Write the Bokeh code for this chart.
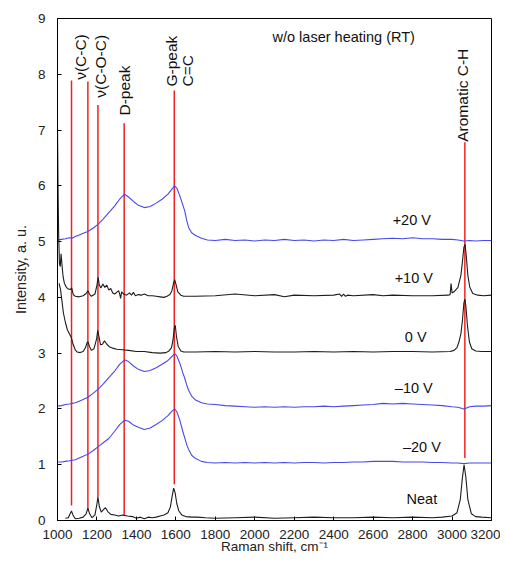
from math import pi
from bokeh.plotting import figure
from bokeh.models import FixedTicker
from bokeh.core.properties import value
from bokeh.embed import file_html
from bokeh.resources import INLINE

# ---------------- data ----------------
x_grid = [1000, 1020, 1040, 1060, 1075, 1090, 1110, 1130, 1154, 1180, 1205, 1230, 1260, 1290, 1315,
          1340, 1360, 1385, 1410, 1440, 1470, 1500, 1530, 1560, 1580, 1594, 1605, 1620, 1635, 1645,
          1655, 1665, 1680, 1700, 1730, 1760, 1800, 1850, 1900, 1950, 2000, 2050, 2100, 2150, 2200,
          2250, 2300, 2350, 2400, 2450, 2500, 2550, 2600, 2650, 2700, 2750, 2800, 2850, 2900, 2950,
          3000, 3030, 3060, 3090, 3120, 3160, 3200]

y_p20 = [5.03, 5.04, 5.05, 5.07, 5.06, 5.09, 5.12, 5.15, 5.18, 5.24, 5.31, 5.40, 5.52, 5.64, 5.76,
         5.85, 5.80, 5.72, 5.65, 5.61, 5.63, 5.69, 5.76, 5.85, 5.94, 6.00, 5.96, 5.82, 5.66, 5.55,
         5.38, 5.25, 5.16, 5.11, 5.06, 5.03, 5.02, 5.04, 5.02, 5.03, 5.01, 5.03, 5.02, 5.04, 5.02,
         5.03, 5.01, 5.03, 5.02, 5.04, 5.02, 5.03, 5.04, 5.05, 5.06, 5.05, 5.07, 5.05, 5.05, 5.04,
         5.04, 5.03, 5.01, 5.02, 5.01, 5.02, 5.02]

y_m10 = [2.05, 2.06, 2.08, 2.09, 2.10, 2.11, 2.14, 2.17, 2.21, 2.28, 2.35, 2.44, 2.56, 2.68, 2.80,
         2.88, 2.85, 2.77, 2.71, 2.67, 2.69, 2.74, 2.80, 2.87, 2.94, 2.99, 2.95, 2.82, 2.65, 2.55,
         2.43, 2.33, 2.23, 2.16, 2.11, 2.09, 2.08, 2.06, 2.05, 2.04, 2.03, 2.04, 2.03, 2.04, 2.03,
         2.04, 2.04, 2.05, 2.04, 2.05, 2.06, 2.07, 2.08, 2.10, 2.09, 2.10, 2.09, 2.08, 2.07, 2.06,
         2.04, 2.03, 2.00, 2.04, 2.05, 2.05, 2.06]

y_m20 = [1.05, 1.05, 1.06, 1.07, 1.08, 1.09, 1.12, 1.15, 1.19, 1.25, 1.32, 1.39, 1.47, 1.60, 1.72,
         1.80, 1.78, 1.71, 1.67, 1.63, 1.66, 1.72, 1.79, 1.88, 1.96, 2.00, 1.95, 1.80, 1.60, 1.48,
         1.36, 1.27, 1.17, 1.11, 1.06, 1.04, 1.03, 1.04, 1.03, 1.04, 1.03, 1.04, 1.03, 1.04, 1.03,
         1.04, 1.04, 1.03, 1.04, 1.04, 1.05, 1.05, 1.06, 1.06, 1.06, 1.05, 1.05, 1.05, 1.04, 1.04,
         1.03, 1.03, 1.02, 1.03, 1.03, 1.03, 1.03]

x_p10 = [1000, 1003, 1006, 1010, 1014, 1018, 1022, 1028, 1035, 1045, 1055, 1065, 1072, 1080, 1090,
         1110, 1130, 1145, 1154, 1162, 1172, 1190, 1200, 1206, 1212, 1220, 1230, 1240, 1250, 1260,
         1270, 1280, 1290, 1300, 1310, 1316, 1320, 1325, 1335, 1350, 1365, 1375, 1385, 1395, 1410,
         1425, 1440, 1460, 1480, 1500, 1520, 1540, 1555, 1570, 1580, 1588, 1594, 1600, 1610, 1625,
         1640, 1700, 1800, 1900, 2000, 2100, 2150, 2200, 2300, 2400, 2430, 2440, 2450, 2460, 2470,
         2500, 2600, 2650, 2700, 2800, 2900, 2980, 2990, 2995, 3000, 3010, 3030, 3045, 3053, 3060,
         3066, 3072, 3080, 3090, 3105, 3130, 3160, 3200]
y_p10 = [7.05, 5.90, 5.10, 4.60, 4.55, 4.78, 4.62, 4.38, 4.25, 4.18, 4.15, 4.14, 4.17, 4.05, 4.02,
         4.01, 4.03, 4.07, 4.12, 4.06, 4.02, 4.06, 4.22, 4.36, 4.22, 4.17, 4.24, 4.18, 4.22, 4.13,
         4.16, 4.08, 4.06, 4.09, 4.12, 4.05, 3.98, 4.10, 4.06, 4.04, 4.08, 4.04, 4.09, 4.03, 4.05,
         4.04, 4.06, 4.03, 4.03, 4.02, 4.01, 4.00, 4.02, 4.05, 4.12, 4.25, 4.32, 4.24, 4.10, 4.04,
         4.02, 4.02, 4.03, 4.06, 4.03, 4.05, 4.01, 4.04, 4.03, 4.04, 4.06, 4.02, 4.06, 4.02, 4.04,
         4.03, 4.05, 4.03, 4.04, 4.03, 4.03, 4.04, 4.05, 4.25, 4.08, 4.10, 4.18, 4.40, 4.65, 4.90,
         4.95, 4.75, 4.40, 4.18, 4.07, 4.04, 4.03, 4.04]

x_0 = [1008, 1015, 1022, 1030, 1040, 1050, 1060, 1070, 1080, 1090, 1100, 1115, 1130, 1142, 1150,
       1155, 1162, 1172, 1185, 1198, 1204, 1210, 1218, 1228, 1238, 1250, 1265, 1280, 1300, 1330,
       1360, 1400, 1440, 1480, 1520, 1550, 1565, 1578, 1586, 1592, 1597, 1603, 1612, 1625, 1640,
       1700, 1800, 1900, 2000, 2100, 2200, 2300, 2400, 2500, 2600, 2700, 2800, 2900, 2990, 3010,
       3025, 3035, 3045, 3053, 3060, 3065, 3070, 3078, 3088, 3100, 3120, 3150, 3200]
y_0 = [4.25, 4.15, 3.95, 3.72, 3.55, 3.42, 3.35, 3.28, 3.15, 3.06, 3.02, 3.01, 3.03, 3.10, 3.19,
       3.20, 3.12, 3.05, 3.08, 3.25, 3.41, 3.30, 3.15, 3.16, 3.22, 3.16, 3.11, 3.09, 3.07, 3.06,
       3.05, 3.03, 3.03, 3.01, 3.00, 3.01, 3.04, 3.10, 3.25, 3.45, 3.50, 3.30, 3.12, 3.04, 3.02,
       3.02, 3.03, 3.02, 3.03, 3.02, 3.02, 3.03, 3.02, 3.03, 3.02, 3.03, 3.03, 3.02, 3.03, 3.05,
       3.10, 3.20, 3.35, 3.60, 3.90, 3.97, 3.85, 3.50, 3.20, 3.08, 3.04, 3.03, 3.03]

x_neat = [1040, 1055, 1065, 1071, 1078, 1090, 1110, 1130, 1145, 1154, 1163, 1175, 1190, 1200, 1205,
          1212, 1222, 1232, 1243, 1255, 1270, 1290, 1310, 1330, 1355, 1380, 1400, 1420, 1440, 1460,
          1480, 1500, 1520, 1540, 1560, 1572, 1582, 1589, 1596, 1605, 1615, 1630, 1650, 1680, 1710,
          1750, 1800, 1900, 2000, 2100, 2200, 2300, 2400, 2500, 2600, 2700, 2800, 2900, 2950, 3000,
          3025, 3042, 3052, 3061, 3070, 3080, 3098, 3120, 3150, 3200]
y_neat = [0.04, 0.05, 0.13, 0.17, 0.10, 0.03, 0.04, 0.06, 0.12, 0.22, 0.12, 0.05, 0.10, 0.30, 0.42,
          0.25, 0.15, 0.19, 0.23, 0.16, 0.11, 0.10, 0.08, 0.10, 0.08, 0.07, 0.04, 0.06, 0.03, 0.06,
          0.05, 0.06, 0.08, 0.10, 0.14, 0.24, 0.45, 0.58, 0.50, 0.30, 0.17, 0.10, 0.07, 0.06, 0.06,
          0.05, 0.04, 0.05, 0.06, 0.04, 0.05, 0.06, 0.05, 0.05, 0.06, 0.05, 0.06, 0.05, 0.06, 0.08,
          0.14, 0.38, 0.75, 1.00, 0.78, 0.38, 0.12, 0.07, 0.06, 0.05]

# reference (band) lines
band_x = [1071, 1154, 1205, 1338, 1592, 3065]
band_bottom = [0.27, 0.21, 0.42, 0.08, 0.65, 1.12]
band_top = [7.89, 7.87, 7.45, 7.12, 7.71, 6.78]

band_labels = ["\u03bd(C-C)", "\u03bd(C-O-C)", "D-peak", "G-peak", "C=C", "Aromatic C-H"]
band_label_x = [1117, 1218, 1340, 1578, 1660, 3053]
band_label_y = [7.90, 7.58, 7.26, 7.78, 7.78, 6.79]

curve_labels = ["+20 V", "+10 V", "0 V", "\u201310 V", "\u201320 V", "Neat"]
curve_label_x = [2796, 2806, 2816, 2806, 2847, 2847]
curve_label_y = [5.39, 4.35, 3.29, 2.38, 1.32, 0.38]

title_text = "w/o laser heating (RT)"
x_ticks = [1000, 1200, 1400, 1600, 1800, 2000, 2200, 2400, 2600, 2800, 3000, 3200]
y_ticks = [0, 1, 2, 3, 4, 5, 6, 7, 8, 9]

# ---------------- figure ----------------
FONT = "Liberation Sans"
BLUE = "#4848ee"
BLACK = "#1c1c1c"
RED = "#f02020"

p = figure(width=500, height=560, x_range=(1000, 3200), y_range=(0, 9),
           output_backend="svg", toolbar_location=None,
           min_border_left=57, min_border_right=9, min_border_top=18, min_border_bottom=40)

p.xgrid.visible = False
p.ygrid.visible = False
p.outline_line_color = "black"
p.outline_line_width = 1
p.background_fill_color = "white"
p.border_fill_color = "white"

for ax in (p.xaxis[0], p.yaxis[0]):
    ax.axis_line_color = "black"
    ax.major_tick_in = 4
    ax.major_tick_out = 0
    ax.minor_tick_line_color = None
    ax.major_label_text_font = FONT
    ax.major_label_text_font_size = "13.5px"
    ax.major_label_text_color = "#222222"
    ax.axis_label_text_font = FONT
    ax.axis_label_text_font_style = "normal"
    ax.axis_label_text_color = "#222222"

p.xaxis[0].axis_label_text_font_size = "13.5px"
p.yaxis[0].axis_label_text_font_size = "14.5px"
p.xaxis[0].ticker = FixedTicker(ticks=x_ticks)
p.yaxis[0].ticker = FixedTicker(ticks=y_ticks)
p.xaxis[0].axis_label = "Raman shift, cm\u207b\u00b9"
p.yaxis[0].axis_label = "Intensity, a. u."
p.xaxis[0].major_label_standoff = 9
p.xaxis[0].axis_label_standoff = -3
p.yaxis[0].major_label_standoff = 12
p.yaxis[0].axis_label_standoff = 6

# band marker lines
p.segment(x0=band_x, x1=band_x, y0=band_bottom, y1=band_top, line_color=RED, line_width=1.5)

# spectra
p.line(x_grid, y_p20, line_color=BLUE, line_width=1.1)
p.line(x_p10, y_p10, line_color=BLACK, line_width=1.1)
p.line(x_0, y_0, line_color=BLACK, line_width=1.1)
p.line(x_grid, y_m10, line_color=BLUE, line_width=1.1)
p.line(x_grid, y_m20, line_color=BLUE, line_width=1.1)
p.line(x_neat, y_neat, line_color=BLACK, line_width=1.1)

# band labels (rotated)
p.text(x=band_label_x, y=band_label_y, text=band_labels, angle=pi / 2,
       text_align="left", text_baseline="middle", text_font=value(FONT),
       text_font_size="15.5px", text_color="#111111")

# curve labels
p.text(x=curve_label_x, y=curve_label_y, text=curve_labels,
       text_align="center", text_baseline="middle", text_font=value(FONT),
       text_font_size="14.5px", text_color="#111111")

# inner title
p.text(x=[2090], y=[8.66], text=[title_text], text_align="left", text_baseline="middle",
       text_font=value(FONT), text_font_size="14.5px", text_color="#111111")

open("out.html", "w").write(file_html(p, INLINE))
